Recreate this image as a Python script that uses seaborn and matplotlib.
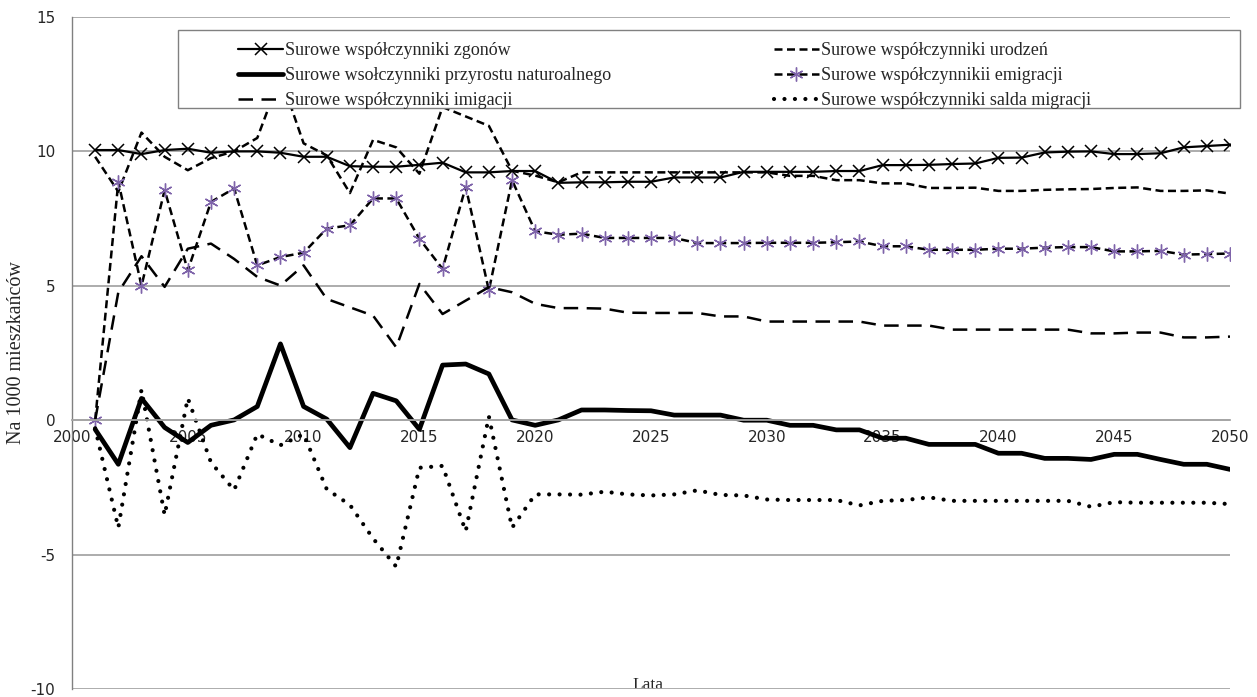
import matplotlib
matplotlib.use("Agg")
import matplotlib.pyplot as plt
from matplotlib.patches import Rectangle
import seaborn as sns
import pandas as pd

sns.set_style("white")
plt.rcParams['font.family'] = ['DejaVu Sans']
plt.rcParams['axes.unicode_minus'] = False

# lata 2001-2050
lata = list(range(2001, 2051))

zgony = [10.05, 10.05, 9.9, 10.05, 10.1, 9.95, 10.0, 10.0, 9.95, 9.8,
         9.8, 9.45, 9.43, 9.43, 9.5, 9.58, 9.22, 9.22, 9.27, 9.27,
         8.83, 8.85, 8.85, 8.87, 8.87, 9.03, 9.03, 9.03, 9.24, 9.24,
         9.24, 9.24, 9.27, 9.27, 9.49, 9.49, 9.5, 9.53, 9.55, 9.76,
         9.77, 9.96, 9.99, 10.0, 9.9, 9.9, 9.93, 10.15, 10.2, 10.25]

urodzenia = [9.8, 8.5, 10.7, 9.8, 9.3, 9.75, 10.0, 10.5, 12.8, 10.3,
             9.85, 8.45, 10.43, 10.15, 9.17, 11.65, 11.3, 10.95, 9.28, 9.1,
             8.85, 9.22, 9.22, 9.22, 9.22, 9.22, 9.22, 9.22, 9.22, 9.22,
             9.09, 9.09, 8.93, 8.93, 8.81, 8.81, 8.64, 8.64, 8.65, 8.53,
             8.53, 8.57, 8.59, 8.6, 8.64, 8.66, 8.53, 8.53, 8.55, 8.43]

przyrost = [-0.34, -1.64, 0.81, -0.27, -0.83, -0.19, 0.01, 0.51, 2.84, 0.51,
            0.04, -1.02, 1.0, 0.72, -0.34, 2.05, 2.09, 1.72, 0.01, -0.19,
            0.01, 0.38, 0.38, 0.36, 0.35, 0.19, 0.19, 0.19, 0.0, 0.0,
            -0.19, -0.19, -0.36, -0.36, -0.67, -0.67, -0.9, -0.9, -0.9, -1.23,
            -1.23, -1.42, -1.42, -1.46, -1.27, -1.27, -1.46, -1.64, -1.64, -1.83]

emigracja = [0.0, 8.87, 5.0, 8.56, 5.57, 8.12, 8.62, 5.76, 6.07, 6.23,
             7.13, 7.25, 8.25, 8.25, 6.75, 5.63, 8.68, 4.83, 8.93, 7.03,
             6.9, 6.94, 6.78, 6.78, 6.78, 6.78, 6.59, 6.59, 6.59, 6.6,
             6.6, 6.6, 6.62, 6.65, 6.47, 6.47, 6.34, 6.34, 6.34, 6.38,
             6.38, 6.42, 6.44, 6.44, 6.28, 6.28, 6.3, 6.16, 6.18, 6.2]

imigracja = [0.0, 4.76, 6.1, 4.96, 6.38, 6.57, 6.0, 5.33, 5.01, 5.76,
             4.51, 4.2, 3.89, 2.71, 5.07, 3.95, 4.45, 4.95, 4.76, 4.33,
             4.17, 4.17, 4.15, 4.0, 3.99, 3.99, 3.99, 3.86, 3.86, 3.67,
             3.67, 3.67, 3.67, 3.67, 3.52, 3.52, 3.52, 3.37, 3.37, 3.37,
             3.37, 3.37, 3.37, 3.23, 3.23, 3.26, 3.26, 3.08, 3.08, 3.11]

saldo = [-0.3, -4.0, 1.13, -3.53, 0.82, -1.57, -2.6, -0.52, -0.93, -0.52,
         -2.57, -3.15, -4.4, -5.45, -1.77, -1.7, -4.13, 0.14, -4.0, -2.76,
         -2.76, -2.77, -2.66, -2.76, -2.8, -2.76, -2.61, -2.78, -2.8, -2.95,
         -2.97, -2.97, -2.97, -3.17, -3.0, -2.97, -2.87, -3.0, -3.0, -3.0,
         -3.0, -3.0, -3.0, -3.22, -3.05, -3.07, -3.07, -3.07, -3.07, -3.12]

df = pd.DataFrame({'rok': lata, 'zgony': zgony, 'urodzenia': urodzenia,
                   'przyrost': przyrost, 'emigracja': emigracja,
                   'imigracja': imigracja, 'saldo': saldo})

fig = plt.figure(figsize=(12.57, 6.97), dpi=100)
ax = fig.add_axes([72/1257, 8/697, 1158/1257, 672/697])

fioletowy = '#7f64aa'

sns.lineplot(data=df, x='rok', y='zgony', ax=ax, color='black', lw=1.6,
             marker='x', ms=9, mew=1.1, mec='black', legend=False,
             label='Surowe współczynniki zgonów')
sns.lineplot(data=df, x='rok', y='urodzenia', ax=ax, color='black', lw=1.8,
             linestyle=(0, (3.2, 1.8)), legend=False,
             label='Surowe współczynniki urodzeń')
sns.lineplot(data=df, x='rok', y='przyrost', ax=ax, color='black', lw=3.4,
             legend=False, label='Surowe wsołczynniki przyrostu naturoalnego')
sns.lineplot(data=df, x='rok', y='emigracja', ax=ax, color='black', lw=1.8,
             linestyle=(0, (3.2, 1.8)), marker=(6, 2, 0), ms=10, mew=1.0,
             mec=fioletowy, legend=False,
             label='Surowe współczynnikii emigracji')
sns.lineplot(data=df, x='rok', y='imigracja', ax=ax, color='black', lw=1.8,
             linestyle=(0, (5.8, 3.4)), legend=False,
             label='Surowe współczynniki imigacji')
sns.lineplot(data=df, x='rok', y='saldo', ax=ax, color='black', lw=3.0,
             linestyle=(0, (0.01, 2.5)), dash_capstyle='round', legend=False,
             label='Surowe współczynniki salda migracji')

ax.set_xlim(2000, 2050)
ax.set_ylim(-10, 15)
ax.set_xticks(range(2000, 2051, 5))
ax.set_yticks(range(-10, 16, 5))
ax.yaxis.grid(True, color='#a6a6a6', lw=1.3)
ax.xaxis.grid(False)
ax.set_axisbelow(True)

for s in ['top', 'right']:
    ax.spines[s].set_visible(False)
ax.spines['left'].set_color('#808080')
ax.spines['left'].set_linestyle((0, (2, 1)))
ax.spines['left'].set_linewidth(1.0)
ax.spines['bottom'].set_position(('data', 0))
ax.spines['bottom'].set_color('#a6a6a6')
ax.spines['bottom'].set_linewidth(1.3)

ax.tick_params(axis='y', length=4, width=1, color='#808080', labelsize=11, pad=8)
ax.tick_params(axis='x', length=5, width=1, color='#a6a6a6', labelsize=11, pad=2)

ax.set_ylabel('Na 1000 mieszkańców', family='Liberation Serif', fontsize=14.5)
ax.yaxis.set_label_coords(-0.040, 0.5)
ax.set_xlabel('Lata', family='Liberation Serif', fontsize=12.5)
ax.xaxis.set_label_coords(0.497, 0.018)

# legenda
h, l = ax.get_legend_handles_labels()
kolejnosc = [0, 2, 4, 1, 3, 5]
ramka = Rectangle((178/1257, 1 - 108/697), 1062/1257, 78/697,
                  transform=fig.transFigure, fc='white', ec='#808080',
                  lw=1.0, zorder=4)
fig.add_artist(ramka)
leg = fig.legend([h[i] for i in kolejnosc], [l[i] for i in kolejnosc],
                 ncol=2, loc='upper left', bbox_to_anchor=(229/1257, 1 - 33/697),
                 bbox_transform=fig.transFigure, frameon=False, borderpad=0,
                 handlelength=2.5, handletextpad=0.1, columnspacing=9.0,
                 labelspacing=0.45, prop={'family': 'Liberation Serif', 'size': 13})
leg.set_zorder(5)

fig.savefig('out.png', dpi=100)
